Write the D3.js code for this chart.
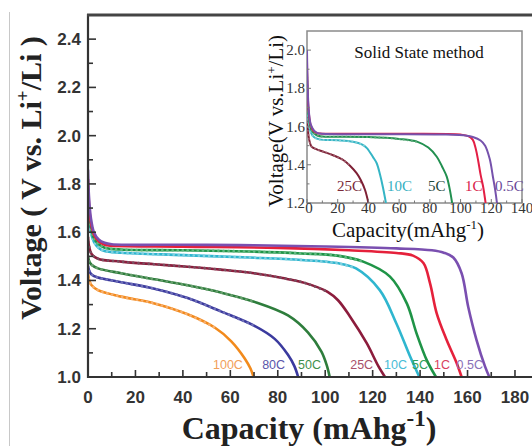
<!DOCTYPE html>
<html><head><meta charset="utf-8">
<script src="https://cdn.jsdelivr.net/npm/d3@7"></script>
<style>
html,body{margin:0;padding:0;background:#fff;}
svg{display:block;}
</style></head>
<body>
<svg id="c" width="532" height="446"></svg>
<script>
// ---------------- data ----------------
const seriesNames = ["100C","80C","50C","25C","10C","5C","1C","0.5C"];
const main100C = [[0,1.43],[0.5,1.4],[1.5,1.38],[4.2,1.36],[14,1.333],[28,1.305],[42,1.26],[53.4,1.205],[60.4,1.148],[66,1.078],[68.5,1.035],[69.8,1.0]];
const main80C = [[0,1.46],[0.5,1.44],[1.5,1.425],[4.2,1.412],[14,1.393],[28,1.366],[42,1.327],[56,1.272],[70,1.213],[78.7,1.158],[84.3,1.092],[87,1.045],[88.6,1.0]];
const main50C = [[0,1.5],[0.5,1.48],[1.5,1.465],[4.2,1.45],[14,1.43],[28,1.405],[42,1.38],[56,1.35],[70,1.312],[84.3,1.255],[92.7,1.185],[98.4,1.105],[100.6,1.05],[101.9,1.0]];
const main25C = [[0,1.58],[0.5,1.54],[1.5,1.51],[4.2,1.49],[14,1.478],[28,1.467],[42,1.457],[56,1.445],[70,1.43],[82,1.41],[91.3,1.39],[101,1.353],[105.4,1.318],[110.5,1.25],[117.5,1.14],[122.4,1.045],[125.2,1.0]];
const main10C = [[0,1.74],[0.4,1.66],[1.2,1.6],[2.5,1.56],[4.5,1.535],[7,1.522],[14,1.515],[40,1.505],[68,1.495],[90,1.485],[105,1.472],[113,1.45],[123,1.36],[130,1.222],[135.8,1.085],[139.7,1.0]];
const main5C = [[0,1.78],[0.4,1.69],[1.2,1.62],[2.5,1.575],[4.5,1.55],[7,1.536],[14,1.528],[40,1.525],[68,1.52],[90,1.512],[105,1.503],[116,1.478],[127.3,1.416],[134.4,1.305],[138.5,1.181],[142.8,1.07],[146.7,1.0]];
const main1C = [[0,1.82],[0.4,1.72],[1.2,1.64],[2.5,1.59],[4.5,1.562],[7,1.548],[10,1.544],[40,1.54],[80,1.535],[110,1.525],[130,1.514],[137,1.503],[141.4,1.472],[144.2,1.388],[147,1.264],[151.2,1.153],[155.4,1.058],[157.5,1.0]];
const main05C = [[0,1.86],[0.4,1.75],[1.2,1.66],[2.5,1.6],[4.5,1.57],[7,1.556],[10,1.55],[40,1.548],[70,1.546],[100,1.541],[130,1.533],[145,1.525],[150,1.515],[154,1.495],[157.5,1.43],[160.3,1.29],[163.8,1.153],[167.4,1.043],[169.2,1.0]];

const insetNames = ["25C","10C","5C","1C","0.5C"];
const in25C = [[0,1.75],[0.4,1.62],[1.2,1.54],[3,1.495],[6,1.482],[10.5,1.469],[17,1.45],[23.6,1.425],[28,1.395],[32.3,1.356],[35,1.32],[37.8,1.268],[40,1.2]];
const in10C = [[0,1.85],[0.4,1.72],[1.2,1.62],[2.5,1.57],[4.5,1.545],[8,1.533],[20,1.528],[30,1.52],[36,1.505],[39,1.487],[43,1.44],[45.4,1.408],[47.5,1.35],[49.5,1.28],[51.4,1.2]];
const in5C = [[0,1.9],[0.4,1.76],[1.2,1.65],[2.5,1.59],[4.5,1.565],[7,1.552],[10,1.548],[40,1.545],[60,1.535],[72,1.52],[79,1.49],[84.5,1.442],[88,1.39],[91,1.338],[93,1.27],[94.5,1.2]];
const in1C = [[0,1.95],[0.4,1.79],[1.2,1.67],[2.5,1.605],[4.5,1.575],[7,1.565],[10,1.563],[60,1.562],[100,1.558],[105,1.55],[108,1.53],[110,1.48],[111.5,1.42],[113,1.35],[114.7,1.285],[116.3,1.2]];
const in05C = [[0,2.0],[0.4,1.82],[1.2,1.68],[2.5,1.61],[4.5,1.58],[7,1.566],[10,1.562],[50,1.56],[90,1.558],[104,1.552],[108,1.545],[113,1.527],[116,1.5],[119,1.43],[121,1.34],[122.5,1.27],[123.7,1.2]];

const mainXTicks = [0,20,40,60,80,100,120,140,160,180];
const mainYTicks = [1.0,1.2,1.4,1.6,1.8,2.0,2.2,2.4];
const insetXTicks = [0,20,40,60,80,100,120,140];
const insetYTicks = [1.2,1.4,1.6,1.8,2.0];

// ---------------- drawing ----------------
const svg = d3.select("#c");
const mainSeries = [main100C,main80C,main50C,main25C,main10C,main5C,main1C,main05C];
const mainColors = ["#f28a1c","#3b3a9e","#2e7d3c","#8c1c3c","#2fb6cf","#1f9447","#e5213b","#7a4fb0"];
const mainDots = [true,true,true,true,true,true,false,false];
const mainDotColors = ["#f7b070","#7070b8","#6aa070","#7a5060","#80d0e0","#60b880",null,null];
const mainLabelColors = ["#f2a05a","#5a55aa","#3f8f4c","#a8506a","#48bcd6","#2fa05a","#d8405e","#8a70b8"];
const mainLabelEnd = [65.3,83.1,98.2,120.2,134.5,143.3,152.6,166.5];

const x = d3.scaleLinear().domain([0,190]).range([88,538.7]);
const y = d3.scaleLinear().domain([1.0,2.5]).range([377,15]);

// scan border on left
svg.append("line").attr("x1",9.5).attr("x2",9.5).attr("y1",12).attr("y2",446)
  .attr("stroke","#c8c8c8").attr("stroke-width",1);

const defs = svg.append("defs");
defs.append("clipPath").attr("id","pc").append("rect")
  .attr("x",88).attr("y",15).attr("width",460).attr("height",362);

const curve = d3.curveCatmullRom.alpha(0.5);
const line = d3.line().x(d=>x(d[0])).y(d=>y(d[1])).curve(curve);
const gCurves = svg.append("g").attr("clip-path","url(#pc)");
mainSeries.forEach((s,i)=>{
  gCurves.append("path").attr("d",line(s)).attr("fill","none")
    .attr("stroke",mainColors[i]).attr("stroke-width",2.6).attr("stroke-linejoin","round");
  if(mainDots[i]){
    const mx = d3.max(s,e=>e[0]);
    gCurves.append("path").attr("d",line(s.filter(d=>d[0]<mx*0.82))).attr("fill","none")
      .attr("stroke",mainDotColors[i]).attr("stroke-width",2.6)
      .attr("stroke-linecap","round").attr("stroke-dasharray","0.1 5");
  }
});

// axes
const axCol = "#333";
d3.range(10,25).forEach(v=>{
  const val=v/10, major = v%2===0;
  svg.append("line").attr("x1",88).attr("x2",88+(major?8:5)).attr("y1",y(val)).attr("y2",y(val))
    .attr("stroke",axCol).attr("stroke-width",1.6);
});
d3.range(0,19).forEach(k=>{
  const val=k*10, major = k%2===0;
  svg.append("line").attr("y1",377).attr("y2",377-(major?7:5)).attr("x1",x(val)).attr("x2",x(val))
    .attr("stroke",axCol).attr("stroke-width",1.6);
});
svg.append("line").attr("x1",88).attr("x2",88).attr("y1",14).attr("y2",378).attr("stroke",axCol).attr("stroke-width",2.2);
svg.append("line").attr("x1",87).attr("x2",532).attr("y1",377).attr("y2",377).attr("stroke",axCol).attr("stroke-width",2.2);
svg.append("line").attr("x1",87).attr("x2",532).attr("y1",15).attr("y2",15).attr("stroke","#444").attr("stroke-width",3);

mainYTicks.forEach(v=>{
  svg.append("text").attr("x",81).attr("y",y(v)+6).attr("text-anchor","end")
    .attr("font-family","Liberation Sans, Arial, sans-serif").attr("font-weight","bold")
    .attr("font-size",17).attr("fill","#333").text(d3.format(".1f")(v));
});
mainXTicks.forEach(v=>{
  svg.append("text").attr("x",x(v)).attr("y",403).attr("text-anchor","middle")
    .attr("font-family","Liberation Sans, Arial, sans-serif").attr("font-weight","bold")
    .attr("font-size",17).attr("fill","#333").text(v);
});

// titles
const xt = svg.append("text").attr("x",309).attr("y",439).attr("text-anchor","middle")
  .attr("font-family","Liberation Serif, Times New Roman, serif").attr("font-weight","bold")
  .attr("font-size",32).attr("fill","#222");
xt.append("tspan").text("Capacity (mAhg");
xt.append("tspan").attr("dy",-13).attr("font-size",23).text("-1");
xt.append("tspan").attr("dy",13).text(")");

const yt = svg.append("text").attr("transform","translate(41,178) rotate(-90)").attr("text-anchor","middle")
  .attr("font-family","Liberation Serif, Times New Roman, serif").attr("font-weight","bold")
  .attr("font-size",30).attr("fill","#222");
yt.append("tspan").text("Voltage ( V vs. Li");
yt.append("tspan").attr("dy",-12).attr("font-size",19).text("+");
yt.append("tspan").attr("dy",12).text("/Li )");

// curve labels
seriesNames.forEach((n,i)=>{
  svg.append("text").attr("x",x(mainLabelEnd[i])).attr("y",369).attr("text-anchor","end")
    .attr("font-family","Liberation Sans, Arial, sans-serif").attr("font-size",12.5)
    .attr("fill",mainLabelColors[i]).text(n);
});

// ---------------- inset ----------------
const xi = d3.scaleLinear().domain([0,140]).range([307,522]);
const yi = d3.scaleLinear().domain([1.2,2.1]).range([203,31]);
svg.append("rect").attr("x",307).attr("y",31).attr("width",215).attr("height",172)
  .attr("fill","#fff").attr("stroke","#8a8a8a").attr("stroke-width",1.5);
defs.append("clipPath").attr("id","ic").append("rect")
  .attr("x",307).attr("y",31).attr("width",215).attr("height",172);

const insetSeries = [in25C,in10C,in5C,in1C,in05C];
const insetColors = ["#7e2035","#35b5c5","#229050","#e31f45","#7652ac"];
const insetDots = [true,true,true,false,false];
const insetDotColors = ["#a06070","#80d0d8","#5aa878",null,null];
const insetLabelColors = ["#7a2a3a","#35b0c2","#1f4a3c","#d81a4a","#6a4a9a"];
const insetLabelX = [337,387,428,465,495];
const li = d3.line().x(d=>xi(d[0])).y(d=>yi(d[1])).curve(curve);
const gi = svg.append("g").attr("clip-path","url(#ic)");
insetSeries.forEach((s,i)=>{
  gi.append("path").attr("d",li(s)).attr("fill","none").attr("stroke",insetColors[i]).attr("stroke-width",2);
  if(insetDots[i]){
    const mx = d3.max(s,e=>e[0]);
    gi.append("path").attr("d",li(s.filter(d=>d[0]<mx*0.8))).attr("fill","none")
      .attr("stroke",insetDotColors[i]).attr("stroke-width",2).attr("stroke-linecap","round")
      .attr("stroke-dasharray","0.1 4");
  }
});
// inset ticks
d3.range(12,21).forEach(v=>{
  const major=v%2===0;
  svg.append("line").attr("x1",307).attr("x2",307+(major?4:2.5)).attr("y1",yi(v/10)).attr("y2",yi(v/10))
    .attr("stroke","#777").attr("stroke-width",1);
});
d3.range(0,15).forEach(k=>{
  const major=k%2===0;
  svg.append("line").attr("y1",203).attr("y2",203-(major?4:2.5)).attr("x1",xi(k*10)).attr("x2",xi(k*10))
    .attr("stroke","#777").attr("stroke-width",1);
});
insetYTicks.forEach(v=>{
  svg.append("text").attr("x",305).attr("y",yi(v)+5).attr("text-anchor","end")
    .attr("font-family","Liberation Serif, Times New Roman, serif").attr("font-size",15)
    .attr("fill","#333").text(d3.format(".1f")(v));
});
insetXTicks.forEach(v=>{
  svg.append("text").attr("x",xi(v)+(v===0?2:0)).attr("y",213).attr("text-anchor","middle")
    .attr("font-family","Liberation Serif, Times New Roman, serif").attr("font-size",15)
    .attr("fill","#333").text(v);
});
svg.append("text").attr("x",419).attr("y",58).attr("text-anchor","middle")
  .attr("font-family","Liberation Serif, Times New Roman, serif").attr("font-size",17)
  .attr("fill","#111").text("Solid State method");
insetNames.forEach((n,i)=>{
  svg.append("text").attr("x",insetLabelX[i]).attr("y",191)
    .attr("font-family","Liberation Serif, Times New Roman, serif").attr("font-size",15)
    .attr("fill",insetLabelColors[i]).text(n);
});
const ixt = svg.append("text").attr("x",408).attr("y",237).attr("text-anchor","middle")
  .attr("font-family","Liberation Serif, Times New Roman, serif").attr("font-size",21).attr("fill","#111");
ixt.append("tspan").text("Capacity(mAhg");
ixt.append("tspan").attr("dy",-8).attr("font-size",13).text("-1");
ixt.append("tspan").attr("dy",8).text(")");
const iyt = svg.append("text").attr("transform","translate(283,121) rotate(-90)").attr("text-anchor","middle")
  .attr("font-family","Liberation Serif, Times New Roman, serif").attr("font-size",21).attr("fill","#111");
iyt.append("tspan").text("Voltage(V vs.Li");
iyt.append("tspan").attr("dy",-7).attr("font-size",13).text("+");
iyt.append("tspan").attr("dy",7).text("/Li)");
</script>
</body></html>
